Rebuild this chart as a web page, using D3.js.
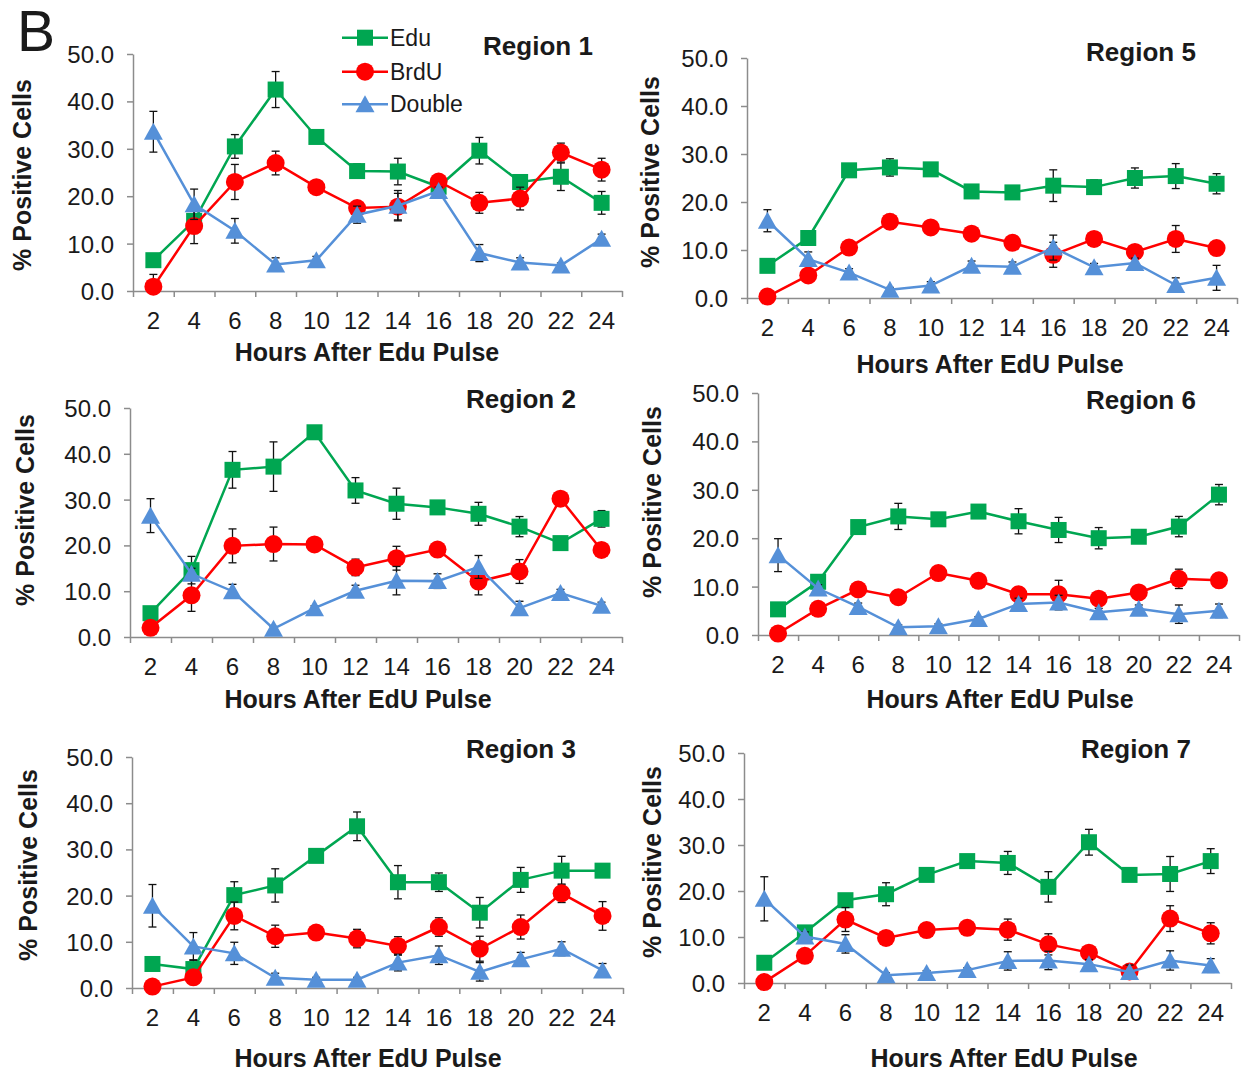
<!DOCTYPE html>
<html>
<head>
<meta charset="utf-8">
<script src="https://cdn.jsdelivr.net/npm/d3@7"></script>
<style>
body { margin: 0; background: #fff; }
svg text { font-family: Arial, "Liberation Sans", sans-serif; fill: #1a1a1a; }
</style>
</head>
<body>
<svg id="chart" width="1241" height="1072"></svg>
<script>
// x categories (hours after pulse)
const hours = ['2', '4', '6', '8', '10', '12', '14', '16', '18', '20', '22', '24'];
const seriesNames = ['Edu', 'BrdU', 'Double'];
const yTicks = [0, 10, 20, 30, 40, 50];

// Region 1
const r1Edu = [6.5, 14.8, 30.5, 42.5, 32.5, 25.3, 25.2, 22.0, 29.6, 23.0, 24.1, 18.6];
const r1EduErr = [1.0, 2.0, 2.5, 3.8, 1.0, 1.5, 2.8, 1.0, 2.8, 1.2, 2.9, 2.4];
const r1BrdU = [0.9, 13.7, 23.0, 27.0, 21.9, 17.5, 17.8, 23.1, 18.6, 19.5, 29.2, 25.6];
const r1BrdUErr = [2.6, 3.7, 3.7, 2.5, 0.8, 1.0, 2.8, 1.0, 2.2, 2.4, 2.0, 2.4];
const r1Double = [33.6, 18.3, 12.7, 5.6, 6.5, 16.1, 18.0, 21.1, 8.0, 6.0, 5.4, 11.0];
const r1DoubleErr = [4.3, 3.2, 2.6, 1.4, 0.8, 1.8, 3.2, 0.8, 1.8, 1.0, 0.5, 1.0];

// Region 5
const r5Edu = [6.7, 12.5, 26.6, 27.2, 26.8, 22.2, 22.0, 23.4, 23.1, 25.0, 25.4, 23.8];
const r5EduErr = [0.8, 1.0, 1.0, 1.8, 1.0, 1.0, 1.0, 3.3, 1.5, 2.1, 2.6, 2.1];
const r5BrdU = [0.3, 4.7, 10.5, 15.9, 14.7, 13.4, 11.5, 9.0, 12.3, 9.6, 12.3, 10.4];
const r5BrdUErr = [0.5, 1.0, 0.8, 1.5, 1.0, 1.0, 1.0, 2.6, 1.5, 1.0, 2.8, 1.0];
const r5Double = [16.1, 8.1, 5.3, 1.7, 2.6, 6.7, 6.5, 10.5, 6.4, 7.3, 2.7, 4.2];
const r5DoubleErr = [2.3, 1.5, 0.8, 0.5, 0.8, 1.0, 1.0, 2.6, 0.8, 1.0, 1.5, 2.6];

// Region 2
const r2Edu = [5.2, 14.6, 36.5, 37.2, 44.7, 32.0, 29.1, 28.3, 26.9, 24.1, 20.5, 25.8];
const r2EduErr = [1.0, 3.0, 4.0, 5.4, 1.0, 2.8, 3.4, 0.8, 2.5, 2.2, 0.8, 1.8];
const r2BrdU = [2.0, 9.1, 19.9, 20.3, 20.2, 15.2, 17.2, 19.1, 12.1, 14.3, 30.2, 19.0];
const r2BrdUErr = [1.0, 3.5, 3.7, 3.7, 0.8, 1.8, 2.6, 0.8, 2.9, 2.6, 0.8, 0.8];
const r2Double = [26.5, 13.8, 10.0, 1.8, 6.3, 10.1, 12.3, 12.2, 15.3, 6.3, 9.6, 6.8];
const r2DoubleErr = [3.7, 1.2, 1.5, 0.5, 0.5, 1.2, 3.1, 1.6, 2.5, 1.5, 0.8, 0.8];

// Region 6
const r6Edu = [5.3, 11.0, 22.3, 24.5, 23.9, 25.5, 23.5, 21.7, 20.0, 20.3, 22.4, 29.0];
const r6EduErr = [0.8, 1.0, 1.0, 2.7, 1.0, 1.0, 2.6, 2.6, 2.2, 1.0, 2.1, 2.1];
const r6BrdU = [0.3, 5.4, 9.4, 7.8, 12.8, 11.2, 8.4, 8.4, 7.5, 8.8, 11.6, 11.3];
const r6BrdUErr = [0.5, 0.8, 0.8, 0.8, 0.8, 0.8, 1.0, 2.9, 1.0, 1.0, 2.0, 0.8];
const r6Double = [16.5, 9.6, 5.8, 1.6, 1.8, 3.3, 6.4, 6.7, 4.7, 5.4, 4.3, 5.0];
const r6DoubleErr = [3.4, 0.8, 0.8, 0.5, 0.5, 0.5, 1.2, 1.5, 0.8, 0.8, 1.9, 1.4];

// Region 3
const r3Edu = [5.2, 4.1, 20.1, 22.2, 28.6, 35.0, 22.9, 22.9, 16.3, 23.4, 25.4, 25.4];
const r3EduErr = [1.0, 2.0, 2.9, 3.6, 1.0, 3.1, 3.6, 2.0, 3.3, 2.7, 3.1, 0.5];
const r3BrdU = [0.3, 2.3, 15.6, 11.2, 12.0, 10.7, 9.1, 13.2, 8.5, 13.2, 20.5, 15.6];
const r3BrdUErr = [0.5, 1.0, 3.0, 2.4, 0.8, 2.0, 2.0, 2.0, 2.7, 2.6, 2.0, 3.1];
const r3Double = [17.8, 9.0, 7.5, 2.2, 1.8, 1.8, 5.5, 7.1, 3.5, 6.2, 8.5, 3.8];
const r3DoubleErr = [4.6, 3.0, 2.4, 1.0, 0.5, 0.5, 1.8, 2.0, 2.0, 1.5, 1.5, 1.5];

// Region 7
const r7Edu = [4.4, 11.0, 18.0, 19.3, 23.5, 26.5, 26.1, 20.9, 30.6, 23.5, 23.7, 26.5];
const r7EduErr = [0.8, 1.0, 1.0, 2.5, 1.0, 1.0, 2.5, 3.3, 2.8, 0.8, 3.8, 2.7];
const r7BrdU = [0.2, 5.9, 13.8, 9.8, 11.5, 12.0, 11.6, 8.4, 6.6, 2.5, 14.0, 10.8];
const r7BrdUErr = [0.5, 1.0, 2.6, 1.0, 1.0, 1.0, 2.3, 2.3, 1.0, 1.5, 2.8, 2.3];
const r7Double = [18.3, 10.1, 8.5, 1.7, 2.2, 2.8, 4.8, 4.9, 4.1, 2.4, 4.9, 3.8];
const r7DoubleErr = [4.8, 1.0, 2.0, 0.5, 0.5, 0.5, 2.0, 2.0, 1.0, 1.5, 2.1, 1.5];

const COLORS = { Edu: '#00a651', BrdU: '#ff0000', Double: '#5590d8' };
const AXIS_COLOR = '#8c8c8c';
const FONT = 24;

// panel layout: plot box + where the titles sit
const panels = [
  { title: 'Region 1', xTitle: 'Hours After Edu Pulse', x0: 133, x1: 622, top: 54, bot: 291,
    tx: 538, ty: 46, yx: 22, yy: 175, xx: 367, xy: 361,
    vals: [r1Edu, r1BrdU, r1Double], errs: [r1EduErr, r1BrdUErr, r1DoubleErr], legend: true },
  { title: 'Region 5', xTitle: 'Hours After EdU Pulse', x0: 747, x1: 1237, top: 58, bot: 298,
    tx: 1141, ty: 52, yx: 650, yy: 172, xx: 990, xy: 373,
    vals: [r5Edu, r5BrdU, r5Double], errs: [r5EduErr, r5BrdUErr, r5DoubleErr] },
  { title: 'Region 2', xTitle: 'Hours After EdU Pulse', x0: 130, x1: 622, top: 408, bot: 637,
    tx: 521, ty: 399, yx: 25, yy: 510, xx: 358, xy: 708,
    vals: [r2Edu, r2BrdU, r2Double], errs: [r2EduErr, r2BrdUErr, r2DoubleErr] },
  { title: 'Region 6', xTitle: 'Hours After EdU Pulse', x0: 758, x1: 1239, top: 393, bot: 635,
    tx: 1141, ty: 400, yx: 652, yy: 502, xx: 1000, xy: 708,
    vals: [r6Edu, r6BrdU, r6Double], errs: [r6EduErr, r6BrdUErr, r6DoubleErr] },
  { title: 'Region 3', xTitle: 'Hours After EdU Pulse', x0: 132, x1: 623, top: 757, bot: 988,
    tx: 521, ty: 749, yx: 28, yy: 865, xx: 368, xy: 1067,
    vals: [r3Edu, r3BrdU, r3Double], errs: [r3EduErr, r3BrdUErr, r3DoubleErr] },
  { title: 'Region 7', xTitle: 'Hours After EdU Pulse', x0: 744, x1: 1231, top: 753, bot: 983,
    tx: 1136, ty: 749, yx: 652, yy: 862, xx: 1004, xy: 1067,
    vals: [r7Edu, r7BrdU, r7Double], errs: [r7EduErr, r7BrdUErr, r7DoubleErr] }
];

const svg = d3.select('#chart');

// panel letter
svg.append('text')
  .attr('x', 17).attr('y', 51)
  .style('font-size', '57px')
  .text('B');

// marker helper
function drawMarker(g, name, cx, cy) {
  if (name === 'Edu') {
    g.append('rect').attr('x', cx - 8).attr('y', cy - 8).attr('width', 16).attr('height', 16)
      .attr('fill', COLORS.Edu);
  } else if (name === 'BrdU') {
    g.append('circle').attr('cx', cx).attr('cy', cy).attr('r', 9).attr('fill', COLORS.BrdU);
  } else {
    g.append('path')
      .attr('d', `M${cx},${cy - 9}L${cx + 9.5},${cy + 8}L${cx - 9.5},${cy + 8}Z`)
      .attr('fill', COLORS.Double);
  }
}

panels.forEach(p => {
  const g = svg.append('g');

  const x = d3.scaleBand().domain(hours).range([p.x0, p.x1]).padding(0);
  const xEdge = d3.scaleLinear().domain([0, hours.length]).range([p.x0, p.x1]);
  const y = d3.scaleLinear().domain([0, 50]).range([p.bot, p.top]);
  const cx = h => x(h) + x.bandwidth() / 2;

  // y axis
  const yAxis = g.append('g')
    .attr('transform', `translate(${p.x0},0)`)
    .call(d3.axisLeft(y).tickValues(yTicks).tickFormat(d3.format('.1f')).tickSize(6).tickSizeOuter(0));
  yAxis.select('.domain').attr('stroke', AXIS_COLOR).attr('stroke-width', 1.5);
  yAxis.selectAll('.tick line').attr('stroke', AXIS_COLOR).attr('stroke-width', 1.5);
  yAxis.selectAll('.tick text')
    .attr('x', -19)
    .attr('dy', '0.35em')
    .style('font-size', FONT + 'px')
    .style('font-family', 'Arial, "Liberation Sans", sans-serif')
    .attr('fill', '#1a1a1a');

  // x axis: ticks at category edges, labels at centres
  const xTicksG = g.append('g')
    .attr('transform', `translate(0,${p.bot})`)
    .call(d3.axisBottom(xEdge).tickValues(d3.range(hours.length + 1)).tickFormat('').tickSize(6).tickSizeOuter(0));
  xTicksG.select('.domain').attr('stroke', AXIS_COLOR).attr('stroke-width', 1.5);
  xTicksG.selectAll('.tick line').attr('stroke', AXIS_COLOR).attr('stroke-width', 1.5);

  const xLabels = g.append('g')
    .attr('transform', `translate(0,${p.bot})`)
    .call(d3.axisBottom(x).tickSize(0).tickPadding(0));
  xLabels.select('.domain').remove();
  xLabels.selectAll('.tick text')
    .attr('y', 38)
    .attr('dy', 0)
    .style('font-size', FONT + 'px')
    .style('font-family', 'Arial, "Liberation Sans", sans-serif')
    .attr('fill', '#1a1a1a');

  // titles
  g.append('text')
    .attr('x', p.tx).attr('y', p.ty)
    .attr('text-anchor', 'middle').attr('dominant-baseline', 'central')
    .style('font-size', '26px').style('font-weight', 'bold')
    .text(p.title);

  g.append('text')
    .attr('transform', `translate(${p.yx},${p.yy}) rotate(-90)`)
    .attr('text-anchor', 'middle').attr('dominant-baseline', 'central')
    .style('font-size', '25px').style('font-weight', 'bold')
    .text('% Positive Cells');

  g.append('text')
    .attr('x', p.xx).attr('y', p.xy)
    .attr('text-anchor', 'middle')
    .style('font-size', '25px').style('font-weight', 'bold')
    .text(p.xTitle);

  // series: error bars, line, markers
  seriesNames.forEach((name, si) => {
    const vals = p.vals[si];
    const errs = p.errs[si];
    const sg = g.append('g');
    const pts = hours.map((h, i) => ({ h, v: vals[i], e: errs[i] }));

    pts.forEach(d => {
      const xc = cx(d.h);
      const yHi = y(d.v + d.e), yLo = y(Math.max(0, d.v - d.e));
      sg.append('line').attr('x1', xc).attr('x2', xc).attr('y1', yHi).attr('y2', yLo)
        .attr('stroke', '#111').attr('stroke-width', 1.3);
      [yHi, yLo].forEach(yy => {
        sg.append('line').attr('x1', xc - 4).attr('x2', xc + 4).attr('y1', yy).attr('y2', yy)
          .attr('stroke', '#111').attr('stroke-width', 1.3);
      });
    });

    sg.append('path')
      .datum(pts)
      .attr('fill', 'none')
      .attr('stroke', COLORS[name])
      .attr('stroke-width', 2.5)
      .attr('d', d3.line().x(d => cx(d.h)).y(d => y(d.v)));

    pts.forEach(d => drawMarker(sg, name, cx(d.h), y(d.v)));
  });

  // legend (first panel only)
  if (p.legend) {
    const lg = g.append('g');
    const legendY = [37.7, 71.7, 104.3];
    seriesNames.forEach((name, i) => {
      lg.append('line').attr('x1', 342).attr('x2', 388).attr('y1', legendY[i]).attr('y2', legendY[i])
        .attr('stroke', COLORS[name]).attr('stroke-width', 2.5);
      drawMarker(lg, name, 365, legendY[i]);
      lg.append('text').attr('x', 390).attr('y', legendY[i])
        .attr('dominant-baseline', 'central')
        .style('font-size', '23px')
        .text(name);
    });
  }
});
</script>
</body>
</html>
